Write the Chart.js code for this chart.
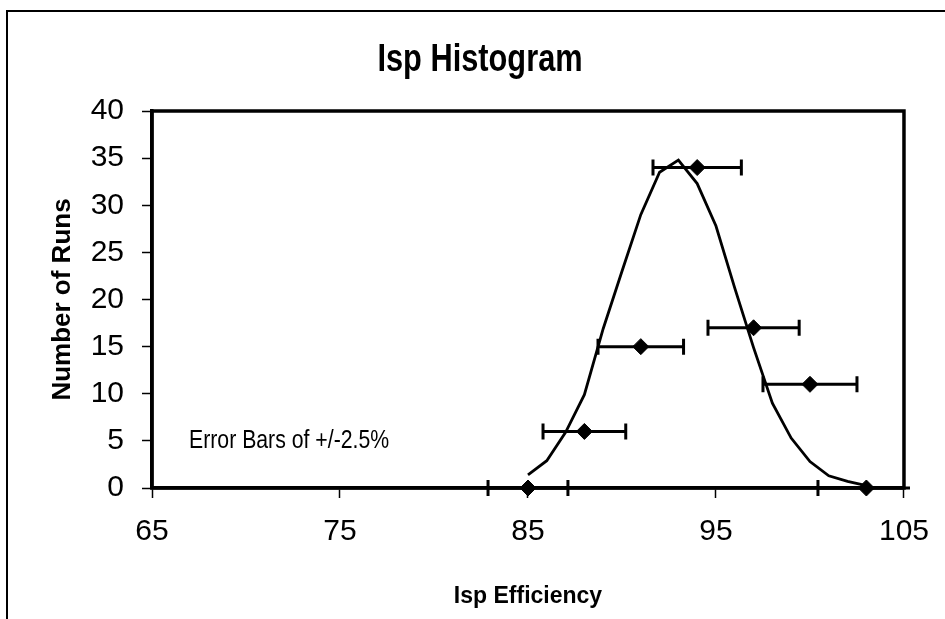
<!DOCTYPE html>
<html>
<head>
<meta charset="utf-8">
<script src="https://cdn.jsdelivr.net/npm/chart.js@4"></script>
<style>
  html, body { margin: 0; padding: 0; background: #fff; }
  #wrap { width: 945px; height: 619px; position: relative; }
</style>
</head>
<body>
<div id="wrap"><canvas id="ispChart"></canvas></div>
<script>
// measured runs (diamonds with +/- error bars)
const runEff = [85, 88, 91, 94, 97, 100, 103];
const runCounts = [0, 6, 15, 34, 17, 11, 0];
const errPct = 2.5;

// fitted curve
const fitEff = [85, 86, 87, 88, 89, 90, 91, 92, 93, 94, 95, 96, 97, 98, 99, 100, 101, 102, 103];
const fitCounts = [1.4, 2.9, 5.9, 9.9, 16.9, 23, 29, 33.5, 34.8, 32.3, 27.8, 21.2, 14.9, 9.0, 5.3, 2.8, 1.3, 0.7, 0.25];

const xTicks = [65, 75, 85, 95, 105];
const yTicks = [0, 5, 10, 15, 20, 25, 30, 35, 40];

const chartTitle = 'Isp Histogram';
const noteText = 'Error Bars of +/-2.5%';

const FONT = "'Liberation Sans', Arial, sans-serif";

// squeezed text, the original uses a narrow face
function narrowText(ctx, text, x, y, font, squeeze, align) {
  ctx.save();
  ctx.font = font;
  ctx.fillStyle = '#000';
  ctx.textAlign = align;
  ctx.textBaseline = 'alphabetic';
  ctx.translate(x, y);
  ctx.scale(squeeze, 1);
  ctx.fillText(text, 0, 0);
  ctx.restore();
}

// outer frame, plot box, error bars, title and the note
const decor = {
  id: 'decor',
  beforeDraw(chart) {
    const ctx = chart.ctx;
    ctx.save();
    ctx.strokeStyle = '#000';
    ctx.lineWidth = 2;
    ctx.beginPath();
    ctx.moveTo(7, 640);
    ctx.lineTo(7, 11);
    ctx.lineTo(960, 11);
    ctx.stroke();
    ctx.restore();
    narrowText(ctx, chartTitle, 480, 71, 'bold 38px ' + FONT, 0.81, 'center');
  },
  afterDatasetsDraw(chart) {
    const ctx = chart.ctx;
    const { left, right, top, bottom } = chart.chartArea;
    const xs = chart.scales.x, ys = chart.scales.y;
    ctx.save();
    // error bars
    ctx.beginPath();
    ctx.rect(left, top - 10, right - left + 6, bottom - top + 20);
    ctx.clip();
    ctx.strokeStyle = '#000';
    ctx.lineWidth = 3;
    runEff.forEach((v, i) => {
      const d = v * errPct / 100;
      const x1 = xs.getPixelForValue(v - d);
      const x2 = xs.getPixelForValue(v + d);
      const y = ys.getPixelForValue(runCounts[i]);
      ctx.beginPath();
      ctx.moveTo(x1, y); ctx.lineTo(x2, y);
      ctx.moveTo(x1, y - 8); ctx.lineTo(x1, y + 8);
      ctx.moveTo(x2, y - 8); ctx.lineTo(x2, y + 8);
      ctx.stroke();
    });
    ctx.restore();

    ctx.save();
    ctx.strokeStyle = '#000';
    ctx.lineWidth = 3.5;
    ctx.strokeRect(left, top, right - left, bottom - top);
    ctx.restore();
    narrowText(ctx, noteText, 189, 448, '25px ' + FONT, 0.85, 'left');
  }
};

new Chart(document.getElementById('ispChart').getContext('2d'), {
  type: 'scatter',
  data: {
    datasets: [
      {
        label: 'Fit',
        data: fitEff.map((x, i) => ({ x: x, y: fitCounts[i] })),
        showLine: true,
        borderColor: '#000',
        borderWidth: 2.8,
        pointRadius: 0,
        tension: 0
      },
      {
        label: 'Runs',
        data: runEff.map((x, i) => ({ x: x, y: runCounts[i] })),
        pointStyle: 'rectRot',
        pointRadius: 8,
        backgroundColor: '#000',
        borderColor: '#000',
        borderWidth: 1,
        clip: false
      }
    ]
  },
  options: {
    responsive: true,
    maintainAspectRatio: false,
    animation: false,
    layout: {
      padding: { left: 0, right: 37, top: 111, bottom: 0 }
    },
    plugins: {
      legend: { display: false },
      tooltip: { enabled: false },
      title: { display: false }
    },
    scales: {
      x: {
        type: 'linear',
        min: 65,
        max: 105,
        afterFit(scale) { scale.height = 131; },
        afterBuildTicks(scale) { scale.ticks = xTicks.map(v => ({ value: v })); },
        grid: {
          drawOnChartArea: false,
          drawTicks: true,
          tickLength: 10,
          tickColor: '#000',
          tickWidth: 1.5
        },
        border: { display: true, color: '#000', width: 3.5 },
        ticks: {
          color: '#000',
          padding: 16,
          maxRotation: 0,
          font: { family: FONT, size: 30 }
        },
        title: {
          display: true,
          text: 'Isp Efficiency',
          color: '#000',
          font: { family: FONT, size: 23, weight: 'bold' },
          padding: { top: 0, bottom: 9 }
        }
      },
      y: {
        min: 0,
        max: 40,
        afterFit(scale) { scale.width = 152; },
        afterBuildTicks(scale) { scale.ticks = yTicks.map(v => ({ value: v })); },
        grid: {
          drawOnChartArea: false,
          drawTicks: true,
          tickLength: 10,
          tickColor: '#000',
          tickWidth: 1.5
        },
        border: { display: true, color: '#000', width: 3.5 },
        ticks: {
          color: '#000',
          padding: 18,
          font: { family: FONT, size: 30 }
        },
        title: {
          display: true,
          text: 'Number of Runs',
          color: '#000',
          font: { family: FONT, size: 26, weight: 'bold' },
          padding: { top: 47, bottom: 0 }
        }
      }
    }
  },
  plugins: [decor]
});
</script>
</body>
</html>
